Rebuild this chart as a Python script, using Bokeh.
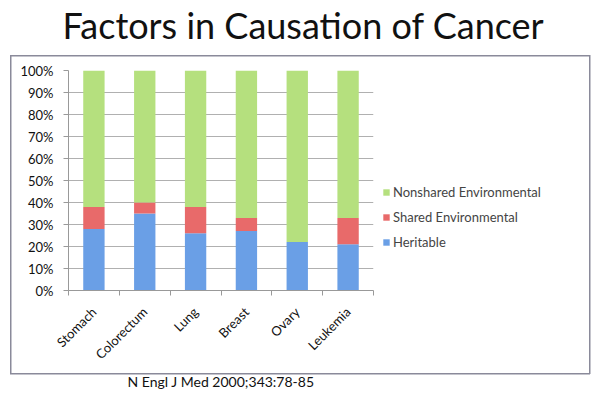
from bokeh.plotting import figure
from bokeh.models import (ColumnDataSource, FixedTicker, Legend, LegendItem, Title)
from bokeh.embed import file_html
from bokeh.resources import INLINE

categories = ["Stomach", "Colorectum", "Lung", "Breast", "Ovary", "Leukemia"]
heritable = [28, 35, 26, 27, 22, 21]
shared_env = [10, 5, 12, 6, 0, 12]
nonshared_env = [62, 60, 62, 67, 78, 67]
y_ticks = [0, 10, 20, 30, 40, 50, 60, 70, 80, 90, 100]

FONT = "Lato"
BOX = "#8a8a9a"
xs = [i + 0.5 for i in range(len(categories))]
s_top = [a + b for a, b in zip(heritable, shared_env)]
n_top = [a + b for a, b in zip(s_top, nonshared_env)]

src = ColumnDataSource(dict(x=xs, h0=[0] * len(xs), h1=heritable, s1=s_top, n1=n_top))

# the thin grey frame round the whole chart is drawn as a CSS background
box_css = {
    "background-image": ", ".join([f"linear-gradient({BOX},{BOX})"] * 4),
    "background-size": "580px 1.5px, 580px 1.5px, 1.5px 319px, 1.5px 319px",
    "background-position": "10px 55px, 10px 373px, 10px 55px, 589px 55px",
    "background-repeat": "no-repeat",
}

p = figure(frame_width=305, frame_height=220, output_backend="svg",
           toolbar_location=None,
           x_range=(0, len(categories)), y_range=(0, 100),
           min_border_left=68, min_border_right=227, min_border_top=70,
           min_border_bottom=104, styles=box_css)
p.border_fill_color = None
p.background_fill_color = "white"

W = 0.42
r_h = p.vbar(x="x", bottom="h0", top="h1", width=W, source=src,
             fill_color="#6a9fe6", line_color=None)
r_s = p.vbar(x="x", bottom="h1", top="s1", width=W, source=src,
             fill_color="#e86a6a", line_color=None)
r_n = p.vbar(x="x", bottom="s1", top="n1", width=W, source=src,
             fill_color="#b5e07e", line_color=None)

# main title (outermost in the top panel)
p.title.text = "Factors in Causation of Cancer"
p.title.text_font = FONT
p.title.text_font_size = "36px"
p.title.text_font_style = "normal"
p.title.align = "left"
p.title.offset = -6
p.title.standoff = -2
p.title.text_color = "#111111"

# blank spacer between the title and the plot area
spacer = Title(text=" ", text_font_size="1px", standoff=22)
p.add_layout(spacer, "above")

cite = Title(text="N Engl J Med 2000;343:78-85", align="center",
             text_font=FONT, text_font_size="14px", text_font_style="normal",
             text_color="#111111", standoff=0)
p.add_layout(cite, "below")

# axes
p.xaxis.ticker = FixedTicker(ticks=xs, minor_ticks=list(range(len(categories) + 1)))
p.xaxis.major_label_overrides = {x: c for x, c in zip(xs, categories)}
p.xaxis.major_label_orientation = 0.785
p.xaxis.major_label_standoff = 13
p.xaxis.major_tick_line_color = None
p.xaxis.minor_tick_out = 5
p.xaxis.minor_tick_in = 0
p.xaxis.minor_tick_line_color = "#999999"
p.xaxis.axis_line_color = "#999999"
p.xaxis.major_label_text_font = FONT
p.xaxis.major_label_text_font_size = "13px"
p.xaxis.major_label_text_color = "#111111"

p.yaxis.ticker = FixedTicker(ticks=y_ticks)
p.yaxis.major_label_overrides = {t: f"{t}%" for t in y_ticks}
p.yaxis.major_label_standoff = 10
p.yaxis.minor_tick_line_color = None
p.yaxis.major_tick_out = 5
p.yaxis.major_tick_in = 0
p.yaxis.major_tick_line_color = "#999999"
p.yaxis.axis_line_color = "#999999"
p.yaxis.major_label_text_font = FONT
p.yaxis.major_label_text_font_size = "13px"
p.yaxis.major_label_text_color = "#111111"

p.xgrid.grid_line_color = None
p.ygrid.grid_line_color = "#b0b0b0"
p.outline_line_color = None

legend = Legend(items=[
    LegendItem(label="Nonshared Environmental", renderers=[r_n]),
    LegendItem(label="Shared Environmental", renderers=[r_s]),
    LegendItem(label="Heritable", renderers=[r_h]),
], location=(9, 40), border_line_color=None, background_fill_alpha=0,
   glyph_width=8, glyph_height=8, label_text_font=FONT,
   label_text_font_size="13px", spacing=9, label_height=14,
   label_standoff=3, padding=4, margin=0)
p.add_layout(legend, "right")

open("out.html", "w").write(file_html(p, INLINE))
